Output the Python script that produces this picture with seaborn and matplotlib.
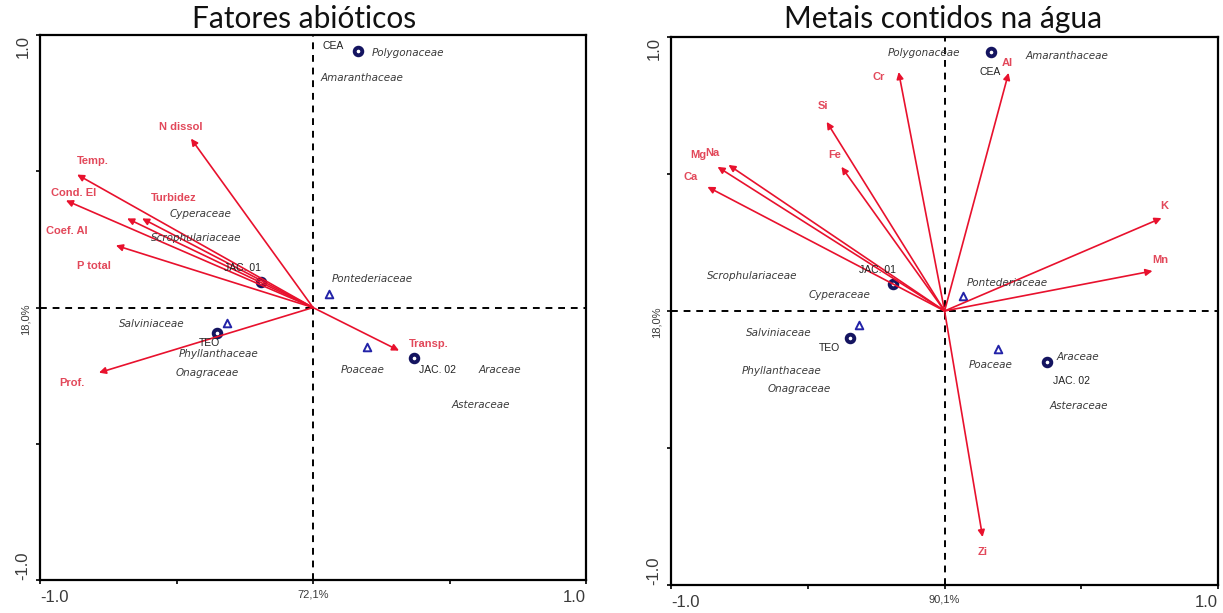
import numpy as np
import pandas as pd
import matplotlib
matplotlib.use("Agg")
import matplotlib.pyplot as plt
import seaborn as sns

sns.set_style("white")
plt.rcParams["font.family"] = ["Liberation Sans", "DejaVu Sans"]

# ---------------- Fatores abióticos ----------------
abio_vars = ["N dissol", "Temp.", "Cond. El", "Turbidez", "Coef. Al", "P total", "Prof.", "Transp."]
abio_x = [-0.447, -0.864, -0.905, -0.626, -0.681, -0.722, -0.784, 0.315]
abio_y = [0.620, 0.488, 0.393, 0.327, 0.327, 0.228, -0.239, -0.158]

abio_sites = ["CEA", "JAC. 01", "TEO", "JAC. 02"]
abio_site_x = [0.165, -0.190, -0.352, 0.370]
abio_site_y = [0.943, 0.092, -0.095, -0.187]

abio_spp = ["Polygonaceae", "Amaranthaceae", "Cyperaceae", "Scrophulariaceae",
            "Pontederiaceae", "Salviniaceae", "Phyllanthaceae", "Onagraceae",
            "Poaceae", "Araceae", "Asteraceae"]
abio_spp_x = [0.216, 0.029, -0.527, -0.593, 0.070, -0.711, -0.491, -0.502, 0.103, 0.608, 0.509]
abio_spp_y = [0.936, 0.844, 0.345, 0.257, 0.103, -0.059, -0.169, -0.242, -0.231, -0.231, -0.356]

abio_tri = ["Pontederiaceae", "Poaceae", "Salviniaceae"]
abio_tri_x = [0.059, 0.198, -0.315]
abio_tri_y = [0.051, -0.143, -0.055]

# ---------------- Metais contidos na água ----------------
metal_vars = ["Cr", "Si", "Fe", "Mg", "Na", "Ca", "Al", "K", "Mn", "Zi"]
metal_x = [-0.168, -0.431, -0.377, -0.830, -0.790, -0.867, 0.234, 0.793, 0.760, 0.139]
metal_y = [0.872, 0.690, 0.526, 0.526, 0.533, 0.453, 0.869, 0.339, 0.146, -0.825]

metal_sites = ["CEA", "JAC. 01", "TEO", "JAC. 02"]
metal_site_x = [0.168, -0.190, -0.347, 0.373]
metal_site_y = [0.945, 0.099, -0.099, -0.186]

metal_spp = ["Polygonaceae", "Amaranthaceae", "Scrophulariaceae", "Cyperaceae",
             "Salviniaceae", "Phyllanthaceae", "Onagraceae", "Araceae",
             "Asteraceae", "Pontederiaceae", "Poaceae"]
metal_spp_x = [-0.208, 0.296, -0.870, -0.497, -0.728, -0.742, -0.647, 0.410, 0.384, 0.080, 0.088]
metal_spp_y = [0.942, 0.931, 0.128, 0.058, -0.080, -0.219, -0.285, -0.168, -0.347, 0.102, -0.197]

metal_tri = ["Pontederiaceae", "Salviniaceae", "Poaceae"]
metal_tri_x = [0.066, -0.314, 0.197]
metal_tri_y = [0.055, -0.051, -0.139]

# label placement for arrows and sites (offsets in pixels from the point)
abio_var_off = [(-32, 12), (0, 14), (-15, 7), (9, 20), (-81, -13), (-39, -21), (-40, -10), (10, 7)]
metal_var_off = [(-26, -5), (-9, 16), (-13, 12), (-27, 12), (-23, 12), (-24, 10),
                 (-7, 10), (-1, 12), (0, 11), (-5, -15)]
abio_site_off = [(-14, 5, "right"), (-37, 14, "left"), (-18, -10, "left"), (5, -12, "left")]
metal_site_off = [(10, -20, "right"), (-34, 14, "left"), (-31, -10, "left"), (6, -19, "left")]

ARROW = "#e8112d"
ARROW_TXT = "#e2485a"
NAVY = "#141460"
TRI = "#2323a8"
SPP_TXT = "#3a3a3a"
PX = 0.72  # points per pixel at 100 dpi


def draw_panel(ax, title, title_x, xpct, ypct,
               vnames, vx, vy, voff,
               snames, sx, sy, soff,
               pnames, px, py,
               tnames, tx, ty):
    ax.set_xlim(-1, 1)
    ax.set_ylim(-1, 1)
    ax.axhline(0, color="black", lw=1.4, ls=(0, (3.5, 3)), zorder=1)
    ax.axvline(0, color="black", lw=1.4, ls=(0, (3.5, 3)), zorder=1)

    # species triangles
    tri = pd.DataFrame({"x": tx, "y": ty, "sp": tnames})
    sns.scatterplot(data=tri, x="x", y="y", ax=ax, marker="^", s=30,
                    facecolor="white", edgecolor=TRI, linewidth=1.4, zorder=3)

    # sample sites
    sites = pd.DataFrame({"x": sx, "y": sy, "site": snames})
    sns.scatterplot(data=sites, x="x", y="y", ax=ax, marker="o", s=30,
                    facecolor="white", edgecolor=NAVY, linewidth=2.8, zorder=3)
    for name, x, y, (dx, dy, ha) in zip(snames, sx, sy, soff):
        ax.annotate(name, (x, y), xytext=(dx * PX, dy * PX), textcoords="offset points",
                    ha=ha, va="center", fontsize=7.5, color="#222222", zorder=5)

    # species labels
    for name, x, y in zip(pnames, px, py):
        ax.text(x, y, name, ha="left", va="center", fontsize=7.5, style="italic",
                color=SPP_TXT, family="DejaVu Sans", zorder=5)

    # environmental vectors
    for name, x, y, (dx, dy) in zip(vnames, vx, vy, voff):
        ax.annotate("", xy=(x, y), xytext=(0, 0),
                    arrowprops=dict(arrowstyle="-|>", color=ARROW, lw=1.2,
                                    mutation_scale=10, shrinkA=0, shrinkB=0),
                    zorder=4)
        ax.annotate(name, (x, y), xytext=(dx * PX, dy * PX), textcoords="offset points",
                    ha="left", va="center", fontsize=8, fontweight="bold",
                    color=ARROW_TXT, zorder=5)

    ax.set_xticks([-1, -0.5, 0, 0.5, 1])
    ax.set_xticklabels(["-1.0", "", xpct, "", "1.0"])
    ax.set_yticks([-1, -0.5, 0, 0.5, 1])
    ax.set_yticklabels(["-1.0", "", ypct, "", "1.0"], rotation=90)
    ax.tick_params(axis="both", direction="out", length=3, width=1.2, color="black",
                   labelsize=12, labelcolor="#3a3a3a", pad=4, bottom=True, left=True)
    xl = ax.get_xticklabels()
    xl[0].set_ha("left")
    xl[4].set_ha("right")
    xl[2].set_fontsize(8)
    yl = ax.get_yticklabels()
    yl[0].set_va("bottom")
    yl[4].set_va("top")
    yl[2].set_fontsize(8)
    for lab in yl:
        lab.set_ha("right")

    for sp in ax.spines.values():
        sp.set_color("black")
        sp.set_linewidth(1.6)
    ax.set_xlabel("")
    ax.set_ylabel("")
    ax.figure.text(title_x, 0.946, title, ha="center", va="bottom", fontsize=21.5,
                   family=["Lato", "DejaVu Sans"], fontweight="normal", color="#111111")


fig = plt.figure(figsize=(12.23, 6.13), dpi=100)
ax1 = fig.add_axes([0.0327, 0.0538, 0.4465, 0.889])
ax2 = fig.add_axes([0.5487, 0.0457, 0.4473, 0.894])

draw_panel(ax1, "Fatores abióticos", 304 / 1223, "72,1%", "18,0%",
           abio_vars, abio_x, abio_y, abio_var_off,
           abio_sites, abio_site_x, abio_site_y, abio_site_off,
           abio_spp, abio_spp_x, abio_spp_y,
           abio_tri, abio_tri_x, abio_tri_y)
draw_panel(ax2, "Metais contidos na água", 943 / 1223, "90,1%", "18,0%",
           metal_vars, metal_x, metal_y, metal_var_off,
           metal_sites, metal_site_x, metal_site_y, metal_site_off,
           metal_spp, metal_spp_x, metal_spp_y,
           metal_tri, metal_tri_x, metal_tri_y)

fig.savefig("out.png", dpi=100)
